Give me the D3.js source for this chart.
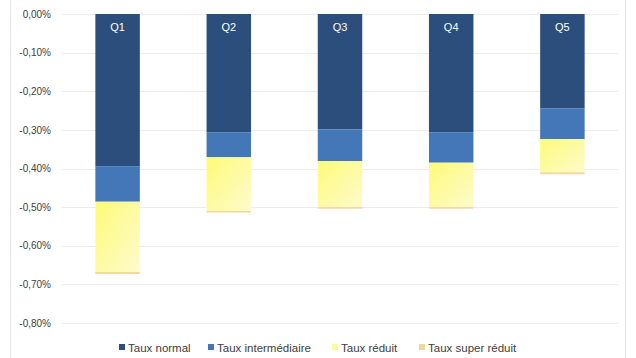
<!DOCTYPE html>
<html><head><meta charset="utf-8">
<script src="https://cdn.jsdelivr.net/npm/d3@7"></script>
<style>html,body{margin:0;padding:0;background:#fff;}svg{display:block;font-family:"Liberation Sans",Arial,sans-serif;}</style>
</head><body>
<svg id="c" width="636" height="358"></svg>
<script>
const categories = ["Q1","Q2","Q3","Q4","Q5"];
const seriesNames = ["Taux normal","Taux intermédiaire","Taux réduit","Taux super réduit"];
const tauxNormal = [-0.394,-0.307,-0.299,-0.307,-0.244];
const tauxIntermediaire = [-0.092,-0.064,-0.082,-0.078,-0.080];
const tauxReduit = [-0.182,-0.139,-0.119,-0.115,-0.086];
const tauxSuperReduit = [-0.005,-0.004,-0.004,-0.004,-0.005];
const tickValues = [0,-0.1,-0.2,-0.3,-0.4,-0.5,-0.6,-0.7,-0.8];
const colors = ["#2c4e7c","#4477b8","url(#yg)","#f3d69c"];

const svg = d3.select("#c");
const defs = svg.append("defs");
const g = defs.append("linearGradient").attr("id","yg").attr("x1","0").attr("y1","0").attr("x2","1").attr("y2","1");
g.append("stop").attr("offset","0").attr("stop-color","#fdfb78");
g.append("stop").attr("offset","1").attr("stop-color","#fdfbcc");

// frame lines
svg.append("line").attr("x1",10.5).attr("x2",10.5).attr("y1",0).attr("y2",358).attr("stroke","#e6e6e6");
svg.append("line").attr("x1",625.5).attr("x2",625.5).attr("y1",0).attr("y2",358).attr("stroke","#e6e6e6");

const x = d3.scaleBand().domain(categories).range([62,618]).paddingInner(0.6).paddingOuter(0.3);
const y = d3.scaleLinear().domain([0,-0.8]).range([14,323]);

const yAxis = d3.axisLeft(y).tickValues(tickValues).tickSize(0).tickPadding(11)
  .tickFormat(d => d3.format(".2f")(d).replace(".",",").replace("−","-") + "%");
const ya = svg.append("g").attr("transform","translate(62,0)").call(yAxis);
ya.select(".domain").remove();
ya.selectAll("text").attr("fill","#404040").style("font-size","10px");

svg.append("g").selectAll("line").data(tickValues).join("line")
  .attr("x1",62).attr("x2",618).attr("y1",d=>Math.round(y(d))+0.5).attr("y2",d=>Math.round(y(d))+0.5)
  .attr("stroke","#ececec");

const seriesArr = [tauxNormal,tauxIntermediaire,tauxReduit,tauxSuperReduit];
const rows = categories.map((c,i)=>{const r={cat:c}; seriesNames.forEach((s,j)=>r[s]=-seriesArr[j][i]); return r;});
const stack = d3.stack().keys(seriesNames)(rows);
svg.append("g").selectAll("g").data(stack).join("g").attr("fill",(d,i)=>colors[i])
  .selectAll("rect").data(d=>d).join("rect")
  .attr("x",d=>x(d.data.cat)).attr("width",x.bandwidth())
  .attr("y",d=>y(-d[0])).attr("height",d=>y(-d[1])-y(-d[0]));

svg.append("g").selectAll("text").data(categories).join("text")
  .attr("x",d=>x(d)+x.bandwidth()/2).attr("y",31).attr("text-anchor","middle")
  .attr("fill","#ffffff").style("font-size","11px").text(d=>d);

const legendX = [119,208,332,419];
const lg = svg.append("g").selectAll("g").data(seriesNames).join("g")
  .attr("transform",(d,i)=>`translate(${legendX[i]},348)`);
lg.append("rect").attr("x",0).attr("y",-4).attr("width",6).attr("height",6).attr("fill",(d,i)=>i===2?"#fdfb9a":colors[i]);
lg.append("text").attr("x",9).attr("y",3.5).attr("fill","#404040").style("font-size","11.5px").text(d=>d);
</script>
</body></html>
